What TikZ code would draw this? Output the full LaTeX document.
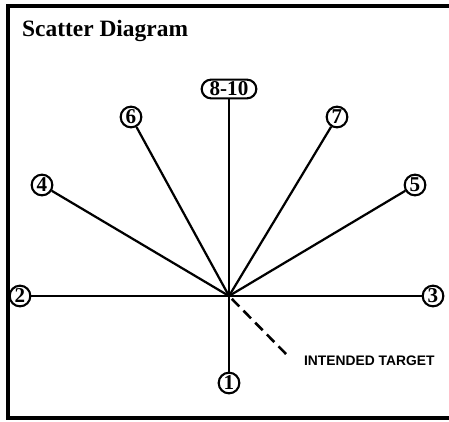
\documentclass[tikz,border=0pt]{standalone}
\usepackage{fontspec}
\setmainfont{Liberation Serif}
\setsansfont{Liberation Sans}
\usetikzlibrary{positioning}
\tikzset{
	hitnode/.style={draw, circle, line width=1.8pt, inner sep=0pt, minimum size=6.2mm,
			font=\bfseries\fontsize{18}{18}\selectfont}
}
\tikzset{
	groupnode/.style={draw, rectangle, rounded corners=2.8mm, line width=1.8pt, inner sep=1pt,
			minimum height=5.6mm, minimum width=16.4mm, font=\bfseries\fontsize{18}{18}\selectfont}
}
\tikzset{
	shotline/.style={line width=1.9pt}
}
\tikzset{
	titletext/.style={font=\bfseries\fontsize{20}{20}\selectfont}
}
\tikzset{
	targettext/.style={font=\sffamily\bfseries\fontsize{11.8}{11.8}\selectfont}
}

\begin{document}
\begin{tikzpicture}[x=0.3mm, y=-0.3mm]

			\clip (0,0) rectangle (449,421);
			\useasboundingbox (0,0) rectangle (449,421);

			% frame, its right side lies outside the picture
			\draw[line width=3pt] (8,6) rectangle (480,418);

			\node[titletext, anchor=west] (title) at (18,31) {Scatter Diagram};

			\coordinate (c) at (229,296);

			\node[hitnode] (n1) at (229,383) {1};
			\node[hitnode] (n2) at (20,296) {2};
			\node[hitnode] (n3) at (433,296) {3};
			\node[hitnode] (n4) at (42,185) {4};
			\node[hitnode] (n5) at (415,185) {5};
			\node[hitnode] (n6) at (131,117) {6};
			\node[hitnode] (n7) at (337,117) {7};
			\node[groupnode] (n8) at (229,89) {8-10};

			\draw[shotline] (n1) -- (c);
			\draw[shotline] (n2) -- (c);
			\draw[shotline] (n3) -- (c);
			\draw[shotline] (n4) -- (c);
			\draw[shotline] (n5) -- (c);
			\draw[shotline] (n6) -- (c);
			\draw[shotline] (n7) -- (c);
			\draw[shotline] (n8) -- (c);

			\node[targettext, anchor=west] (target) at (300,361) {INTENDED TARGET};
			\coordinate (t) at (289,357);
			\draw[shotline, line width=2.2pt, dash pattern=on 3.2mm off 1.8mm, shorten <=1.2mm] (c) -- (t);

		\end{tikzpicture}
\end{document}
